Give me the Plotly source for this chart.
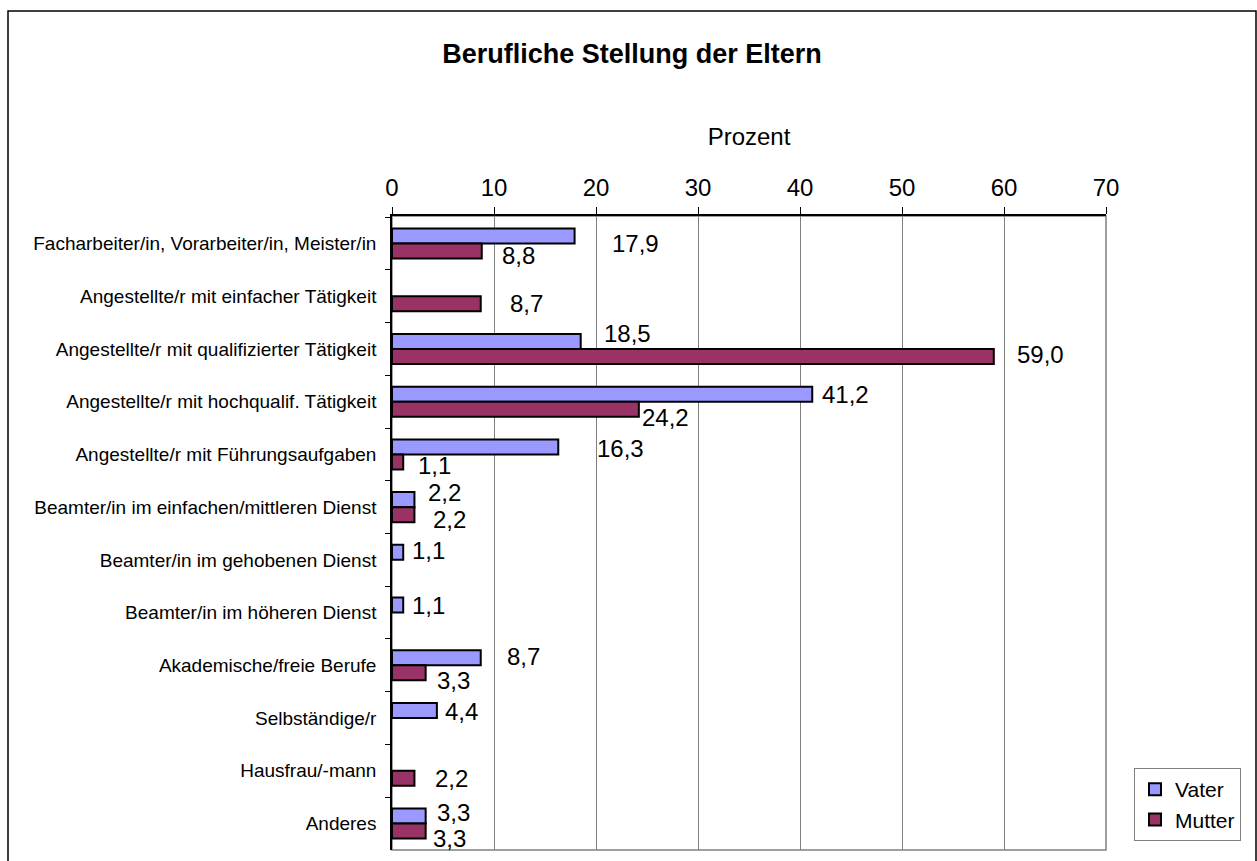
import plotly.graph_objects as go

categories = [
    "Facharbeiter/in, Vorarbeiter/in, Meister/in",
    "Angestellte/r mit einfacher Tätigkeit",
    "Angestellte/r mit qualifizierter Tätigkeit",
    "Angestellte/r mit hochqualif. Tätigkeit",
    "Angestellte/r mit Führungsaufgaben",
    "Beamter/in im einfachen/mittleren Dienst",
    "Beamter/in im gehobenen Dienst",
    "Beamter/in im höheren Dienst",
    "Akademische/freie Berufe",
    "Selbständige/r",
    "Hausfrau/-mann",
    "Anderes",
]
vater = [17.9, None, 18.5, 41.2, 16.3, 2.2, 1.1, 1.1, 8.7, 4.4, None, 3.3]
mutter = [8.8, 8.7, 59.0, 24.2, 1.1, 2.2, None, None, 3.3, None, 2.2, 3.3]
x_ticks = [0, 10, 20, 30, 40, 50, 60, 70]

# label pixel offsets (style): (dx, dy) relative to bar end / band centre
vater_off = [(61, 0), None, (47, -15), (33, -7), (62, -6), (30, -15), (25, -9), (25, -7),
             (43, -9), (25, -7), None, (28, -11)]
mutter_off = [(37, 12), (46, 7), (47, 6), (27, 16), (31, 11), (35, 12), None, None,
              (28, 15), None, (37, 8), (24, 15)]

FONT = "Arial, Liberation Sans, sans-serif"

fig = go.Figure()
fig.add_trace(go.Bar(
    name="Vater", y=categories, x=vater, orientation="h",
    marker=dict(color="#9999FF", line=dict(color="black", width=2)),
))
fig.add_trace(go.Bar(
    name="Mutter", y=categories, x=mutter, orientation="h",
    marker=dict(color="#993366", line=dict(color="black", width=2)),
))

def fmt(v):
    return f"{v:.1f}".replace(".", ",")

for vals, offs in ((vater, vater_off), (mutter, mutter_off)):
    for cat, v, off in zip(categories, vals, offs):
        if v is None:
            continue
        dx, dy = off
        fig.add_annotation(
            x=v, y=cat, xref="x", yref="y", text=fmt(v), showarrow=False,
            xanchor="center", yanchor="middle", xshift=dx, yshift=-dy,
            font=dict(family=FONT, size=24, color="black"),
        )

W, H = 1257, 861
L, R, T, B = 392, 1106, 216, 850
pw, ph = R - L, B - T

def px_x(x):
    return (x - L) / pw

def px_y(y):
    return (B - y) / ph

# outer chart frame
fig.add_shape(type="rect", xref="paper", yref="paper",
              x0=px_x(8), x1=px_x(1256), y0=px_y(875), y1=px_y(11),
              line=dict(color="black", width=1.5), layer="below")
# plot area border (gray)
fig.add_shape(type="rect", xref="paper", yref="paper",
              x0=0, x1=1, y0=0, y1=1,
              line=dict(color="#808080", width=1.5), layer="below")

fig.update_layout(
    width=W, height=H,
    margin=dict(l=L, r=W - R, t=T, b=H - B, autoexpand=False),
    paper_bgcolor="white", plot_bgcolor="white",
    barmode="group", bargap=0.43, bargroupgap=0,
    title=dict(text="<b>Berufliche Stellung der Eltern</b>",
               x=632 / W, xanchor="center", y=1 - 54 / H, yanchor="middle",
               font=dict(family=FONT, size=27, color="black")),
    font=dict(family=FONT, color="black"),
    showlegend=True,
    legend=dict(x=px_x(1134), y=px_y(768), xanchor="left", yanchor="top",
                bordercolor="#808080", borderwidth=1, bgcolor="white",
                font=dict(family=FONT, size=21, color="black"),
                traceorder="normal", itemwidth=30, tracegroupgap=2),
    xaxis=dict(side="top", range=[0, 70], tickvals=x_ticks, ticktext=[str(t) for t in x_ticks],
               showgrid=True, gridcolor="#808080", gridwidth=1,
               showline=True, linecolor="black", linewidth=1.5,
               ticks="outside", ticklen=7, tickcolor="black",
               ticklabelstandoff=2,
               tickfont=dict(family=FONT, size=24, color="black"),
               title=dict(text="Prozent", font=dict(family=FONT, size=24, color="black"), standoff=21),
               zeroline=False, fixedrange=True),
    yaxis=dict(autorange="reversed", type="category", tickson="boundaries",
               showline=True, linecolor="black", linewidth=1.5,
               ticks="outside", ticklen=5, tickcolor="black",
               ticklabelstandoff=10,
               tickfont=dict(family=FONT, size=19, color="black"),
               showgrid=False, zeroline=False, fixedrange=True),
)

fig.write_html("out.html", config={"displayModeBar": False},
               post_script="document.body.style.margin='0';document.documentElement.style.overflow='hidden';")
